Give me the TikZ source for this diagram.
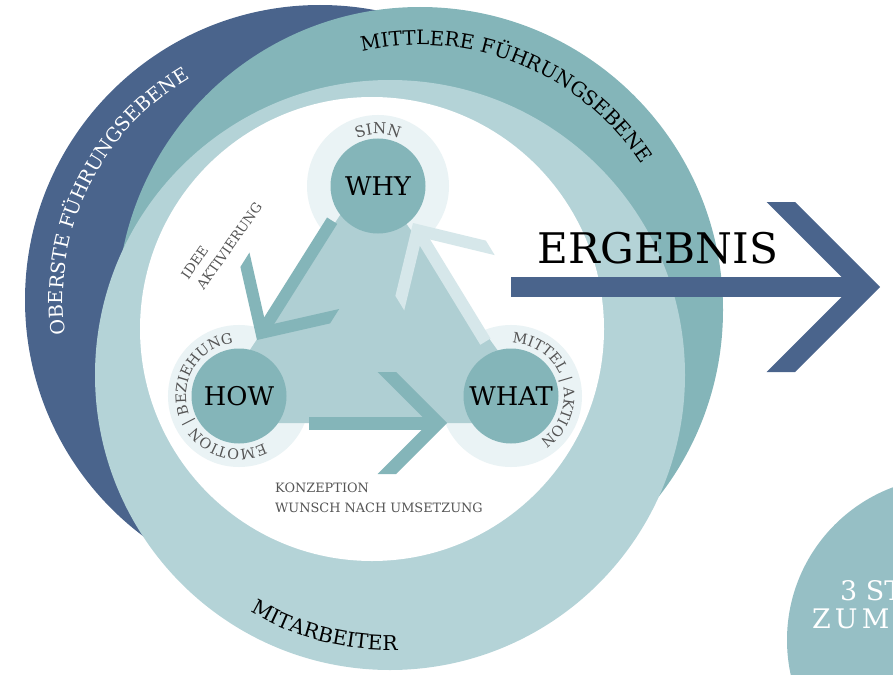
\documentclass[tikz,border=0pt]{standalone}
\usepackage{fontspec}
\setmainfont{DejaVu Serif}
\usepackage{tikz}
\usetikzlibrary{positioning,decorations.text}

\definecolor{oberblau}{HTML}{4A648C}
\definecolor{mittelteal}{HTML}{84B5B9}
\definecolor{basisteal}{HTML}{B4D3D7}
\definecolor{dreieckteal}{HTML}{AFCFD3}
\definecolor{hofteal}{HTML}{EAF3F5}
\definecolor{pfeilhell}{HTML}{D6E7EA}
\definecolor{stufenteal}{HTML}{96BFC5}
\definecolor{textgrau}{HTML}{555555}

\begin{document}
\begin{tikzpicture}[x=0.03cm,y=0.03cm,
	kern/.style={circle,fill=mittelteal,inner sep=0pt,minimum size=2.85cm,font=\fontsize{22}{24}\selectfont},
	hof/.style={circle,fill=hofteal,inner sep=0pt,minimum size=4.26cm},
	klein/.style={font=\fontsize{11}{17}\selectfont,text=textgrau,inner sep=0pt,align=left},
	stufentext/.style={anchor=base west,inner sep=0pt,text=white,font=\fontsize{23}{28}\selectfont}]
	\useasboundingbox (0,0) rectangle (893,-675);
	\clip (0,0) rectangle (893,-675);
	% Ebenen
	\coordinate (oberste) at (320,-300);
	\coordinate (mittlere) at (420,-310);
	\coordinate (basis) at (390,-375);
	\coordinate (innen) at (372,-329);
	\fill[oberblau] (oberste) circle[radius=295];
	\fill[mittelteal] (mittlere) circle[radius=303];
	\fill[basisteal] (basis) circle[radius=295];
	\fill[white] (innen) circle[radius=232];
	% Kreise und Dreieck
	\node[hof] (whyhof) at (378,-186) {};
	\node[hof] (howhof) at (239,-396) {};
	\node[hof] (whathof) at (511,-396) {};
	\coordinate (dreieckoben) at (369,-172);
	\coordinate (dreiecklinks) at (201,-423);
	\coordinate (dreieckrechts) at (550,-423);
	\fill[dreieckteal] (dreieckoben) -- (dreiecklinks) -- (dreieckrechts) -- cycle;
	\node[kern] (why) at (whyhof.center) {WHY};
	\node[kern] (how) at (howhof.center) {HOW};
	\node[kern] (what) at (whathof.center) {WHAT};
	% Pfeile
	\coordinate (ideespitze) at (257,-340);
	\coordinate (konzeptspitze) at (447,-423);
	\coordinate (mittelspitze) at (413,-223);
	\begin{scope}[shift={(ideespitze)},rotate=237.8]
		\fill[mittelteal] (-141,-6) rectangle (-12,6);
		\fill[mittelteal] (0,0) -- (-53,53) -- (-70,53) -- (-17,0) -- (-70,-53) -- (-53,-53) -- cycle;
	\end{scope}
	\begin{scope}[shift={(konzeptspitze)}]
		\fill[mittelteal] (-138,-6.5) rectangle (-14,6.5);
		\fill[mittelteal] (0,0) -- (-51,51) -- (-69.4,51) -- (-18.4,0) -- (-69.4,-51) -- (-51,-51) -- cycle;
	\end{scope}
	\begin{scope}[shift={(mittelspitze)},rotate=121.4]
		\fill[pfeilhell] (-139,-6) rectangle (-12,6);
		\fill[pfeilhell] (0,0) -- (-53,53) -- (-70,53) -- (-17,0) -- (-70,-53) -- (-53,-53) -- cycle;
	\end{scope}
	% Beschriftung
	\path[decorate,decoration={text along path,text align=center,
		text={|\fontsize{16.5}{18}\selectfont\color{white}|OBERSTE FÜHRUNGSEBENE}}]
		(oberste) ++(205:257) arc[start angle=205,end angle=103,radius=257];
	\path[decorate,decoration={text along path,text align=center,
		text={|\fontsize{17}{18}\selectfont|MITTLERE FÜHRUNGSEBENE}}]
		(mittlere) ++(123:265) arc[start angle=123,end angle=13,radius=265];
	\path[decorate,decoration={text along path,text align=center,
		text={|\fontsize{17.4}{18}\selectfont|MITARBEITER}}]
		(basis) ++(215:275) arc[start angle=215,end angle=296,radius=275];
	\path[decorate,decoration={text along path,text align=center,
		text={|\fontsize{13}{14}\selectfont\color{textgrau}|SINN}}]
		(why.center) ++(160:52) arc[start angle=160,end angle=20,radius=52];
	\path[decorate,decoration={text along path,text align=center,
		text={|\fontsize{12.3}{14}\selectfont\color{textgrau}|EMOTION {\textbar} BEZIEHUNG}}]
		(how.center) ++(-33:53) arc[start angle=-33,end angle=-293,radius=53];
	\path[decorate,decoration={text along path,text align=center,
		text={|\fontsize{12.3}{14}\selectfont\color{textgrau}|MITTEL {\textbar} AKTION}}]
		(what.center) ++(120:53) arc[start angle=120,end angle=-88,radius=53];
	\node[klein,rotate=55,anchor=west,font=\fontsize{11.5}{16}\selectfont] (idee) at (192,-283) {IDEE\\AKTIVIERUNG};
	\node[klein,anchor=north west] (konzeption) at (275,-483) {KONZEPTION\\WUNSCH NACH UMSETZUNG};
	% Ergebnis
	\coordinate (ergebnisspitze) at (880,-287);
	\begin{scope}[shift={(ergebnisspitze)}]
		\fill[oberblau] (-369,-10) rectangle (-22,10);
		\fill[oberblau] (0,0) -- (-85,85) -- (-113.3,85) -- (-28.3,0) -- (-113.3,-85) -- (-85,-85) -- cycle;
	\end{scope}
	\node[anchor=base,inner sep=0pt,font=\fontsize{36}{40}\selectfont] (ergebnis) at (658,-263) {ERGEBNIS};
	\node[circle,fill=stufenteal,inner sep=0pt,minimum size=9.78cm] (stufen) at (950,-640) {};
	\node[stufentext] (stufenzeile) at (840,-600) {3 ST};
	\node[stufentext,font=\fontsize{23}{28}\selectfont\addfontfeature{LetterSpace=15}] (zumzeile) at (812,-628) {ZUM};
\end{tikzpicture}
\end{document}
